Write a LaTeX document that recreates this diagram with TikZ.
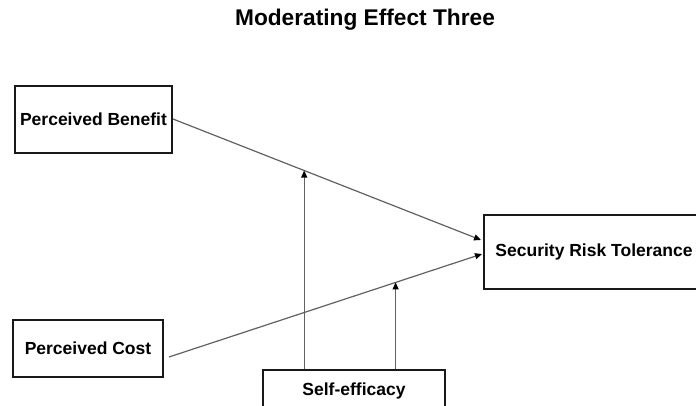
\documentclass[tikz,border=0pt]{standalone}
\usepackage{fontspec}
\setmainfont{Liberation Sans}
\usetikzlibrary{arrows.meta,calc}
\begin{document}
\begin{tikzpicture}[x=1pt,y=-1pt,
  box/.style={draw=black!90,line width=2pt,fill=white,inner sep=0pt,
    font=\fontsize{17.5}{20}\selectfont\bfseries},
  link/.style={draw=black!62,line width=1.2pt,
    -{Triangle[length=7pt,width=6pt,fill=black,color=black]}},
  titletext/.style={font=\fontsize{22.7}{26}\selectfont\bfseries}]
  \clip (0,0) rectangle (696,406);
  \fill[white] (0,0) rectangle (696,406);

  % title
  \node[titletext] (title) at (365,20) {Moderating Effect Three};

  % constructs
  \node[box,minimum width=157pt,minimum height=67pt] (pb) at (93.5,119.5) {Perceived Benefit};
  \node[box,minimum width=150pt,minimum height=57pt] (pc) at (88,348.5) {Perceived Cost};
  \node[box,minimum width=220pt,minimum height=74pt] (srt) at (594,252) {Security Risk Tolerance};
  \node[box,minimum width=182pt,minimum height=42pt] (se) at (354,391) {Self-efficacy};

  % main paths (y grows downward here)
  \coordinate (pbOut) at ($(pb.east)+(0,-0.5)$);
  \coordinate (srtIn1) at ($(srt.west)+(-2,-12)$);
  \coordinate (pcOut) at ($(pc.east)+(5,8.5)$);
  \coordinate (srtIn2) at ($(srt.west)+(-1,2)$);
  \draw[link] (pbOut) -- (srtIn1);
  \draw[link] (pcOut) -- (srtIn2);

  % moderation points on the main paths
  \coordinate (m1) at ($(pbOut)!0.426!(srtIn1)$);
  \coordinate (m2) at ($(pcOut)!0.724!(srtIn2)$);
  \draw[link] (se.north -| m1) -- (m1);
  \draw[link] (se.north -| m2) -- (m2);
\end{tikzpicture}
\end{document}
